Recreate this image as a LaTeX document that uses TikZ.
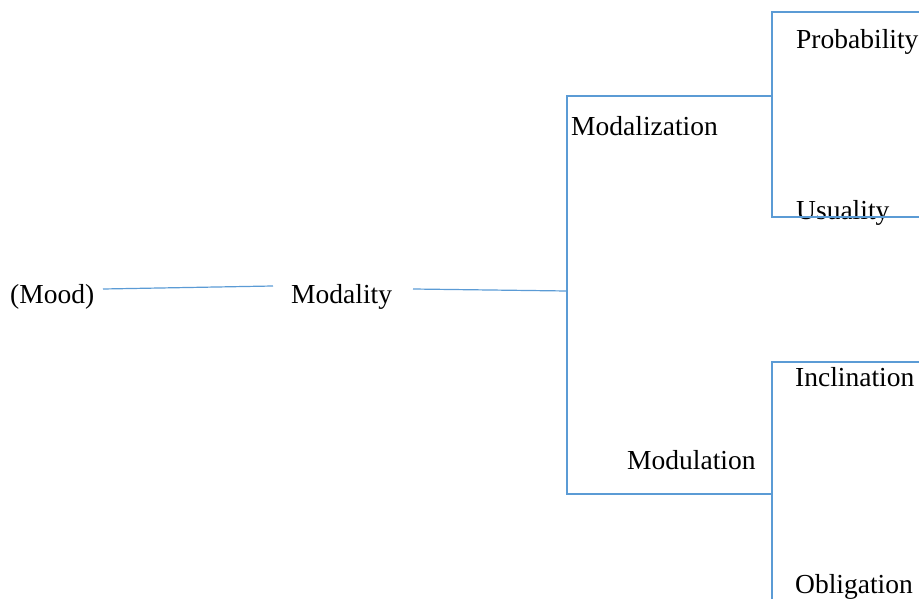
\documentclass[tikz,border=0pt]{standalone}
\usepackage{fontspec}
\setmainfont{Liberation Serif}
\usetikzlibrary{positioning,calc}
\definecolor{branchblue}{RGB}{91,155,213}
\tikzset{
term/.style = {anchor=base west, inner sep=0pt, font=\fontsize{27.5}{32}\selectfont},
branch/.style = {draw=branchblue, line width=1.2pt},
}
\begin{document}
\begin{tikzpicture}[x=1pt,y=-1pt]
\useasboundingbox (0,0) rectangle (919,599);
% terms
\node [term] (mood) at (10,303) {(Mood)};
\node [term] (modality) at (291,303) {Modality};
\node [term] (modalization) at (571,136) {Modalization};
\node [term] (modulation) at (627,469) {Modulation};
\node [term] (probability) at (796,49) {Probability};
\node [term] (usuality) at (796,219) {Usuality};
\node [term] (inclination) at (795,386) {Inclination};
\node [term] (obligation) at (795,593) {Obligation};
% branch points
\coordinate (moodout) at (103,289);
\coordinate (modin) at (273,286);
\coordinate (modout) at (413,289);
\coordinate (fork) at (567,291);
\coordinate (zatop) at (567,96);
\coordinate (zabot) at (567,494);
\coordinate (zafork) at (772,96);
\coordinate (ulfork) at (772,494);
\coordinate (patop) at (772,12);
\coordinate (pabot) at (772,217);
\coordinate (pend) at (919,12);
\coordinate (uend) at (919,217);
\coordinate (iatop) at (772,362);
\coordinate (iabot) at (772,599);
\coordinate (iend) at (919,362);
% connectors
\draw [branch] (moodout) -- (modin);
\draw [branch] (modout) -- (fork);
\draw [branch] (zafork) -- (zatop) -- (zabot) -- (ulfork);
\draw [branch] (pend) -- (patop) -- (pabot) -- (uend);
\draw [branch] (iend) -- (iatop) -- (iabot);
\end{tikzpicture}
\end{document}
